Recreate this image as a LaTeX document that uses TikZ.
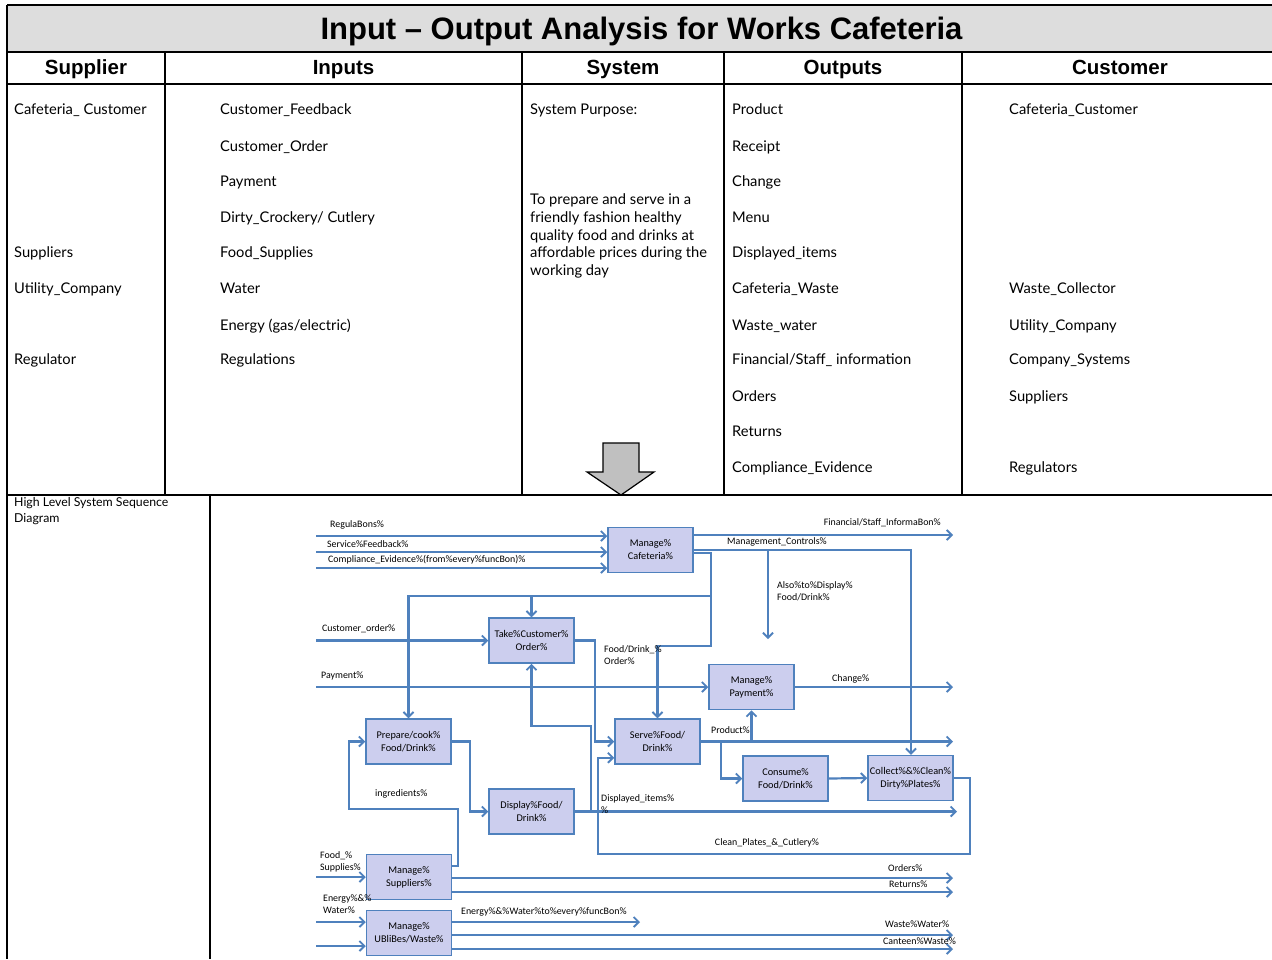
\documentclass[tikz,border=0pt]{standalone}
\usepackage{fontspec}
\setmainfont{Lato}
\newfontfamily\hdfont{Liberation Sans}
\newfontfamily\dgfont{Carlito}
\usetikzlibrary{arrows.meta,calc}
\definecolor{bl}{RGB}{79,129,189}
\definecolor{boxfill}{RGB}{204,206,238}
\definecolor{titlegray}{RGB}{221,221,221}
\definecolor{arrgray}{RGB}{192,192,192}
\begin{document}
\begin{tikzpicture}[x=1pt,y=-1pt,
 tline/.style={line width=2.4pt,black},
 hd/.style={font=\hdfont\bfseries\fontsize{20.5}{24}\selectfont,inner sep=0,anchor=base},
 cell/.style={anchor=base west,inner sep=0,font=\fontsize{14.7}{17}\selectfont},
 fbox/.style={draw=bl,fill=boxfill,line width=1.5pt,minimum width=85pt,minimum height=45pt,align=center,font=\dgfont\fontsize{10.3}{13}\selectfont,inner sep=0},
 conn/.style={draw=bl,line width=2.2pt},
 arr/.style={conn,-{Straight Barb[length=5pt,width=10pt,line width=1.9pt]}},
 lbl/.style={font=\dgfont\fontsize{9.9}{12}\selectfont,inner sep=0,anchor=west,align=left},
]
\useasboundingbox (0,0) rectangle (1272,959);
\fill[white] (0,0) rectangle (1272,959);
\fill[titlegray] (7,5) rectangle (1272,52);
% block arrow
\draw[fill=arrgray,line width=1.2pt,line join=miter] (603,443) -- (639,443) -- (639,472) -- (654,472) -- (621,495) -- (587,472) -- (603,472) -- cycle;
% table lines
\draw[tline] (7,5) -- (1272,5);
\draw[tline] (7,52) -- (1272,52);
\draw[tline] (7,84) -- (1272,84);
\draw[tline] (7,495) -- (1272,495);
\draw[tline] (7,5) -- (7,959);
\foreach \x in {165,522,724,962} \draw[tline] (\x,52) -- (\x,495);
\draw[tline] (210,495) -- (210,959);
% title and headers
\node[font=\hdfont\bfseries\fontsize{31}{36}\selectfont,inner sep=0,anchor=base] (title) at (641.5,39) {Input – Output Analysis for Works Cafeteria};
\node[hd] (hsup) at (86,74.5) {Supplier};
\node[hd] (hin) at (343.5,74.5) {Inputs};
\node[hd] (hsys) at (623,74.5) {System};
\node[hd] (hout) at (843,74.5) {Outputs};
\node[hd] (hcus) at (1120,74.5) {Customer};
% supplier column
\node[cell] (s1) at (14,114) {Cafeteria\_ Customer};
\node[cell] (s2) at (14,257) {Suppliers};
\node[cell] (s3) at (14,293) {Utility\_Company};
\node[cell] (s4) at (14,364) {Regulator};
% inputs
\node[cell] (i1) at (220,114) {Customer\_Feedback};
\node[cell] (i2) at (220,151) {Customer\_Order};
\node[cell] (i3) at (220,186) {Payment};
\node[cell] (i4) at (220,222) {Dirty\_Crockery/ Cutlery};
\node[cell] (i5) at (220,257) {Food\_Supplies};
\node[cell] (i6) at (220,293) {Water};
\node[cell] (i7) at (220,330) {Energy (gas/electric)};
\node[cell] (i8) at (220,364) {Regulations};
% system
\node[cell] (y0) at (530,114) {System Purpose:};
\node[cell] (y1) at (530,204) {To prepare and serve in a};
\node[cell] (y2) at (530,222) {friendly fashion healthy};
\node[cell] (y3) at (530,240) {quality food and drinks at};
\node[cell] (y4) at (530,257) {affordable prices during the};
\node[cell] (y5) at (530,275) {working day};
% outputs
\node[cell] (o1) at (732,114) {Product};
\node[cell] (o2) at (732,151) {Receipt};
\node[cell] (o3) at (732,186) {Change};
\node[cell] (o4) at (732,222) {Menu};
\node[cell] (o5) at (732,257) {Displayed\_items};
\node[cell] (o6) at (732,293) {Cafeteria\_Waste};
\node[cell] (o7) at (732,330) {Waste\_water};
\node[cell] (o8) at (732,364) {Financial/Staff\_ information};
\node[cell] (o9) at (732,401) {Orders};
\node[cell] (o10) at (732,436) {Returns};
\node[cell] (o11) at (732,472) {Compliance\_Evidence};
% customer
\node[cell] (c1) at (1009,114) {Cafeteria\_Customer};
\node[cell] (c2) at (1009,293) {Waste\_Collector};
\node[cell] (c3) at (1009,330) {Utility\_Company};
\node[cell] (c4) at (1009,364) {Company\_Systems};
\node[cell] (c5) at (1009,401) {Suppliers};
\node[cell] (c6) at (1009,472) {Regulators};
% lower left label
\node[anchor=north west,inner sep=0,align=left,font=\fontsize{12.3}{16}\selectfont] (hl) at (14,497) {High Level System Sequence\\Diagram};

% ---------- sequence diagram ----------
\node[fbox] (mc) at (650.5,550) {Manage\%\\Cafeteria\%};
\node[fbox] (to) at (531.5,640.5) {Take\%Customer\%\\Order\%};
\node[fbox] (mp) at (751.5,687) {Manage\%\\Payment\%};
\node[fbox] (pc) at (408.5,741.5) {Prepare/cook\%\\Food/Drink\%};
\node[fbox] (sv) at (657.5,741.5) {Serve\%Food/\\Drink\%};
\node[fbox] (cs) at (785.5,778.5) {Consume\%\\Food/Drink\%};
\node[fbox] (cc) at (910.5,778) {Collect\%\&\%Clean\%\\Dirty\%Plates\%};
\node[fbox] (dp) at (531.5,811.5) {Display\%Food/\\Drink\%};
\node[fbox] (ms) at (409,877) {Manage\%\\Suppliers\%};
\node[fbox] (mu) at (409,933) {Manage\%\\UBliBes/Waste\%};

% free ends
\coordinate (sReg) at (316,536);
\coordinate (sSF) at (316,552);
\coordinate (sCE) at (316,568);
\coordinate (eFin) at (953,535);
\coordinate (mcR) at (911,550);
\coordinate (alsoEnd) at (768,639);
\coordinate (j0) at (711,553);
\coordinate (j1) at (711,596);
\coordinate (j2) at (711,646);
\coordinate (sCO) at (316,640.5);
\coordinate (sPay) at (316,687);
\coordinate (eCh) at (953,687);
\coordinate (t1) at (595,0);
\coordinate (eProd) at (953,741.5);
\coordinate (t2) at (721,0);
\coordinate (cpR) at (970,854);
\coordinate (cpL) at (598,854);
\coordinate (eDisp) at (957,811.5);
\coordinate (t3) at (591,726);
\coordinate (t4) at (470,0);
\coordinate (t5) at (458,809);
\coordinate (t6) at (349,809);
\coordinate (sFS) at (316,877);
\coordinate (eOrd) at (953,878);
\coordinate (eRet) at (953,892);
\coordinate (sEW) at (316,922);
\coordinate (sX) at (316,946);
\coordinate (eEW) at (640,922);
\coordinate (eWW) at (953,935);
\coordinate (eCW) at (953,949);
\coordinate (svIn2) at ([yshift=7pt]sv.south west);

\draw[arr] (sReg) -- (sReg -| mc.west);
\draw[arr] (sSF) -- (sSF -| mc.west);
\draw[arr] (sCE) -- (sCE -| mc.west);
\draw[arr] (eFin -| mc.east) -- (eFin);
\draw[arr] (mcR -| mc.east) -- (mcR) -- (mcR |- cc.north);
\draw[arr] (alsoEnd |- mcR) -- (alsoEnd);
\draw[arr] (j0 -| mc.east) -- (j0) -- (j2) -- (j2 -| sv.north) -- (sv.north);
\draw[arr] (j1) -- (j1 -| pc.north) -- (pc.north);
\draw[arr] (j1 -| to.north) -- (to.north);
\draw[arr] (sCO) -- (to.west);
\draw[arr] (sPay) -- (mp.west);
\draw[arr] (mp.east) -- (eCh);
\draw[arr] (to.east) -- (to.east -| t1) -- (sv.west -| t1) -- (sv.west);
\draw[arr] (sv.east) -- (eProd);
\draw[arr] (sv.east -| mp.south) -- (mp.south);
\draw[arr] (sv.east -| t2) -- (cs.west -| t2) -- (cs.west);
\draw[arr] (cs.east) -- (cc.west);
\draw[arr] (cc.east) -- (cc.east -| cpR) -- (cpR) -- (cpL) -- (cpL |- svIn2) -- (svIn2);
\draw[arr] (dp.east) -- (eDisp);
\draw[arr] (dp.east -| t3) -- (t3) -- (t3 -| to.south) -- (to.south);
\draw[arr] (pc.east) -- (pc.east -| t4) -- (dp.west -| t4) -- (dp.west);
\coordinate (msOut) at ([yshift=11pt]ms.east);
\draw[arr] (msOut) -- (msOut -| t5) -- (t5) -- (t6) -- (t6 |- pc.west) -- (pc.west);
\draw[arr] (sFS) -- (ms.west);
\draw[arr] (eOrd -| ms.east) -- (eOrd);
\draw[arr] (eRet -| ms.east) -- (eRet);
\draw[arr] (sEW) -- (sEW -| mu.west);
\draw[arr] (sX) -- (sX -| mu.west);
\draw[arr] (eEW -| mu.east) -- (eEW);
\draw[arr] (eWW -| mu.east) -- (eWW);
\draw[arr] (eCW -| mu.east) -- (eCW);

% labels
\node[lbl] (lReg) at (330,525) {RegulaBons\%};
\node[lbl] (lSF) at (327,544) {Service\%Feedback\%};
\node[lbl] (lCE) at (328,560) {Compliance\_Evidence\%(from\%every\%funcBon)\%};
\node[lbl,anchor=east] (lFin) at (941,523) {Financial/Staff\_InformaBon\%};
\node[lbl] (lMC) at (727,542) {Management\_Controls\%};
\node[lbl,anchor=north west] (lAlso) at (777,581) {Also\%to\%Display\%\\Food/Drink\%};
\node[lbl] (lCO) at (322,629) {Customer\_order\%};
\node[lbl,anchor=north west] (lFDO) at (604,645) {Food/Drink\_\%\\Order\%};
\node[lbl] (lPay) at (321,676) {Payment\%};
\node[lbl] (lCh) at (832,679) {Change\%};
\node[lbl] (lProd) at (711,730) {Product\%};
\node[lbl] (lIng) at (375,794) {ingredients\%};
\node[lbl,anchor=north west] (lDI) at (601,794) {Displayed\_items\%\\\%};
\node[lbl,anchor=center] (lCP) at (767,843) {Clean\_Plates\_\&\_Cutlery\%};
\node[lbl,anchor=north west] (lFS) at (320,851) {Food\_\%\\Supplies\%};
\node[lbl] (lOrd) at (888,868) {Orders\%};
\node[lbl] (lRet) at (889,884) {Returns\%};
\node[lbl,anchor=north west] (lEW) at (323,895) {Energy\%\&\%\\Water\%};
\node[lbl] (lEWf) at (461,912) {Energy\%\&\%Water\%to\%every\%funcBon\%};
\node[lbl] (lWW) at (885,924) {Waste\%Water\%};
\node[lbl] (lCW) at (883,941) {Canteen\%Waste\%};
\end{tikzpicture}
\end{document}
